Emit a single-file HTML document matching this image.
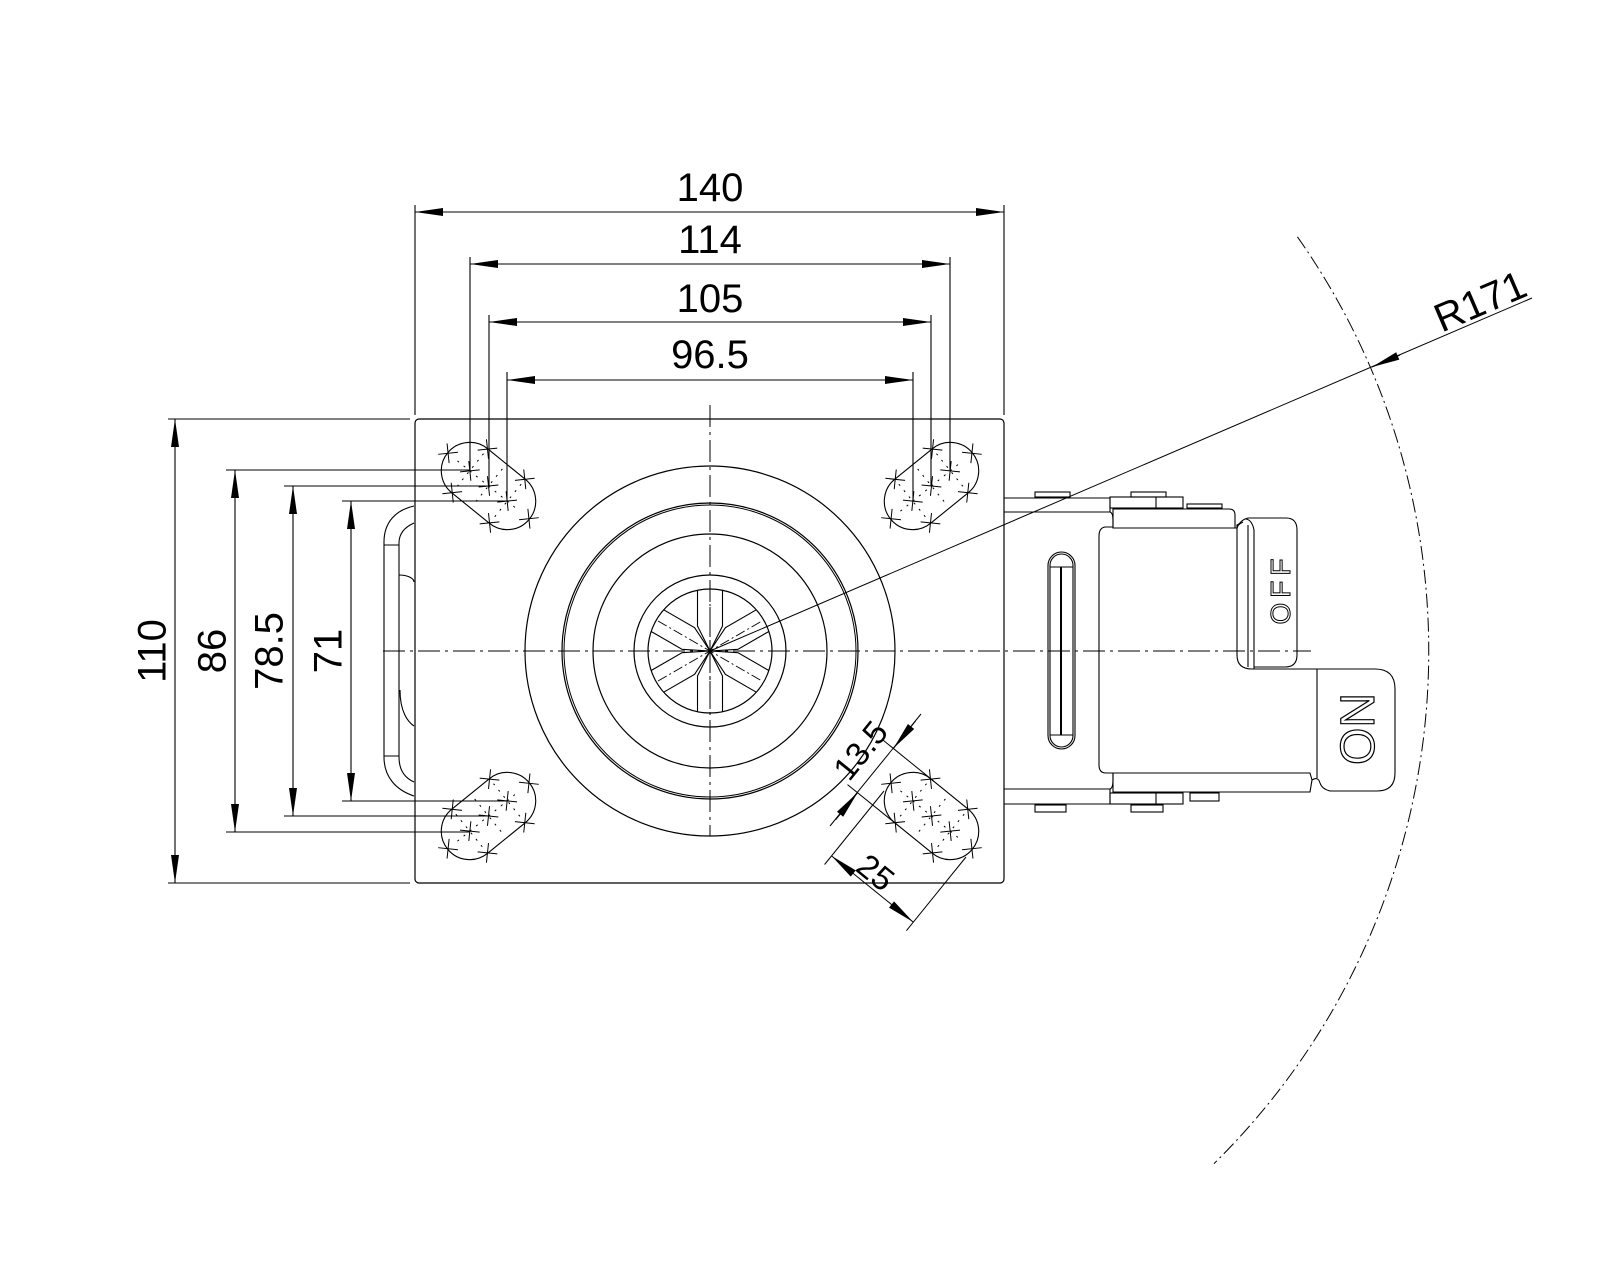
<!DOCTYPE html>
<html><head><meta charset="utf-8"><style>
html,body{margin:0;padding:0;background:#fff;}
svg{display:block;}
text{font-family:"Liberation Sans",Arial,sans-serif;}
</style></head><body>
<svg width="1600" height="1280" viewBox="0 0 1600 1280" xmlns="http://www.w3.org/2000/svg">
<defs>
<marker id="ar" markerUnits="userSpaceOnUse" markerWidth="30" markerHeight="10" viewBox="-29 -5 30 10" refX="0" refY="0" orient="auto-start-reverse">
<path d="M0,0 L-28,-4 L-28,4 Z" fill="#000"/>
</marker>
<g id="slot">
<rect x="-52.6" y="-28.4" width="105.2" height="56.8" rx="28.4" fill="none" stroke="#000" stroke-width="1.1"/>
<line x1="-40" y1="0" x2="40" y2="0" stroke="#000" stroke-width="1" stroke-dasharray="2 6"/>
<g stroke="#000" stroke-width="1">
<path d="M-31,-7 L-17,7 M-31,7 L-17,-7"/>
<path d="M-7,-7 L7,7 M-7,7 L7,-7"/>
<path d="M17,-7 L31,7 M17,7 L31,-7"/>
<path d="M-31,-35 L-17,-21 M-31,-21 L-17,-35"/>
<path d="M17,-35 L31,-21 M17,-21 L31,-35"/>
<path d="M-31,35 L-17,21 M-31,21 L-17,35"/>
<path d="M17,35 L31,21 M17,21 L31,35"/>
<path d="M-59,-7 L-45,7 M-59,7 L-45,-7"/>
<path d="M45,-7 L59,7 M45,7 L59,-7"/>
</g>
<g stroke="#000" stroke-width="1" stroke-dasharray="2 6">
<line x1="-24.2" y1="-22" x2="-24.2" y2="22"/>
<line x1="0" y1="-22" x2="0" y2="22"/>
<line x1="24.2" y1="-22" x2="24.2" y2="22"/>
</g>
</g>
<g id="band">
<path d="M60.7,-12.5 L25,-12.5 L0,0 L25,12.5 L60.7,12.5 M-60.7,-12.5 L-25,-12.5 L0,0 L-25,12.5 L-60.7,12.5" fill="none" stroke="#000" stroke-width="1.1"/>
<line x1="-60" y1="0" x2="60" y2="0" stroke="#000" stroke-width="1" stroke-dasharray="10 3 2 3"/>
</g>
</defs>

<g fill="none" stroke="#000" stroke-width="1.2">
<rect x="415" y="419" width="589" height="464" rx="4"/>
<circle cx="710" cy="651" r="185"/>
<circle cx="710" cy="651" r="148"/>
<circle cx="710" cy="651" r="146" stroke-width="1"/>
<circle cx="710" cy="651" r="117"/>
<circle cx="710" cy="651" r="76"/>
<circle cx="710" cy="651" r="62"/>
</g>
<g transform="translate(710,651)">
<use href="#band" transform="rotate(90)"/>
<use href="#band" transform="rotate(30)"/>
<use href="#band" transform="rotate(-30)"/>
</g>

<use href="#slot" transform="translate(488.5,486) rotate(39)"/>
<use href="#slot" transform="translate(931.5,486) rotate(-39)"/>
<use href="#slot" transform="translate(488.5,816) rotate(-39)"/>
<use href="#slot" transform="translate(931.5,816) rotate(39)"/>

<g fill="none" stroke="#000" stroke-width="1.1">
<path d="M414,506 C396,510 384,522 384,542 L384,757 C384,777 396,790 414,796"/>
<path d="M414,523 C405,527 399,533 399,543 L399,757 C399,770 405,778 414,782"/>
<path d="M384,545 L399,545 M384,756 L399,756"/>
<path d="M399,575 C407,575 414,578 414,582"/>
<path d="M400,690 C400,712 408,722 414,726"/>
</g>

<g stroke="#000" stroke-width="1" stroke-dasharray="22 5 3 5">
<line x1="383" y1="651" x2="1311" y2="651"/>
<line x1="710" y1="405" x2="710" y2="836"/>
</g>

<g fill="none" stroke="#000" stroke-width="1.1">
<path d="M1004,498 L1110,498 L1110,512 L1004,512"/>
<rect x="1110" y="497" width="73" height="11"/>
<line x1="1156" y1="497" x2="1156" y2="508"/>
<rect x="1035" y="492" width="35" height="5"/>
<rect x="1131" y="492" width="35" height="5"/>
<rect x="1187" y="504" width="35" height="4"/>
<path d="M1113,509 L1229,509 Q1235,509 1235,515 L1235,528 L1113,528 Z"/>
<path d="M1110,512 Q1113,513 1113,520 L1113,528"/>
<path d="M1113,527 L1105,527 Q1099,528 1099,536 L1099,765 Q1099,773 1106,773 L1113,773"/>
<path d="M1235,528 L1237,528 Q1237,525 1243,522 L1237,525 L1237,655 Q1237,669 1252,669 L1317,669"/>
<path d="M1248,518 L1286,518 Q1297,518 1297,530 L1297,655 Q1297,667 1285,667 L1254,667"/>
<path d="M1248,518 Q1240,520 1237,528"/>
<line x1="1248" y1="525" x2="1248" y2="667"/>
<line x1="1254" y1="530" x2="1254" y2="669"/>
<path d="M1254,530 Q1252,520 1246,519"/>
<path d="M1317,669 L1375,669 Q1395,669 1395,689 L1395,773 Q1395,791 1377,791 L1330,791 Q1322,789 1320,783 Q1318,776 1312,780 L1310,792 L1113,792 L1113,773 L1310,773 L1312,780"/>
<line x1="1317" y1="669" x2="1317" y2="778"/>
<path d="M1004,789 L1110,789 L1110,804 L1004,804"/>
<path d="M1110,789 Q1113,788 1113,780 L1113,773"/>
<rect x="1110" y="793" width="73" height="11"/>
<line x1="1156" y1="793" x2="1156" y2="804"/>
<rect x="1190" y="793" width="29" height="8"/>
<rect x="1035" y="805" width="31" height="7"/>
<rect x="1131" y="805" width="32" height="7"/>
<rect x="1048" y="552" width="27" height="197" rx="13.5"/>
<rect x="1050" y="554" width="23" height="193" rx="11.5"/>
<line x1="1050" y1="567" x2="1073" y2="567"/>
<line x1="1050" y1="735" x2="1073" y2="735"/>
<line x1="1061" y1="567" x2="1061" y2="735" stroke-width="2"/>
</g>
<text transform="translate(1280,592) rotate(-90)" x="3" y="10" text-anchor="middle" font-size="28" letter-spacing="5" fill="none" stroke="#000" stroke-width="1">OFF</text>
<text transform="translate(1357,729) rotate(-90)" x="0" y="17" text-anchor="middle" font-size="48" fill="none" stroke="#000" stroke-width="1.2">ON</text>

<path d="M1297.4,236.8 A719,719 0 0 1 1214,1163.6" fill="none" stroke="#000" stroke-width="1" stroke-dasharray="14 4 2 4"/>
<line x1="710" y1="651" x2="1532" y2="298" stroke="#000" stroke-width="1"/>
<line x1="1400" y1="355" x2="1372" y2="367" stroke="#000" stroke-width="1" marker-end="url(#ar)"/>
<text transform="translate(1480,301) rotate(-23.2)" x="0" y="14" text-anchor="middle" font-size="40">R171</text>

<g stroke="#000" stroke-width="1.1">
<line x1="415" y1="205" x2="415" y2="415"/>
<line x1="1004" y1="205" x2="1004" y2="415"/>
<line x1="470" y1="257" x2="470" y2="471"/>
<line x1="950" y1="257" x2="950" y2="471"/>
<line x1="489" y1="315" x2="489" y2="486"/>
<line x1="931" y1="315" x2="931" y2="486"/>
<line x1="507" y1="372" x2="507" y2="501"/>
<line x1="913" y1="372" x2="913" y2="501"/>
<line x1="415" y1="212" x2="1004" y2="212" marker-start="url(#ar)" marker-end="url(#ar)"/>
<line x1="470" y1="264" x2="950" y2="264" marker-start="url(#ar)" marker-end="url(#ar)"/>
<line x1="489" y1="322" x2="931" y2="322" marker-start="url(#ar)" marker-end="url(#ar)"/>
<line x1="507" y1="380" x2="913" y2="380" marker-start="url(#ar)" marker-end="url(#ar)"/>
</g>
<g font-size="40" text-anchor="middle">
<text x="710" y="201">140</text>
<text x="710" y="253">114</text>
<text x="710" y="312">105</text>
<text x="710" y="368">96.5</text>
</g>

<g stroke="#000" stroke-width="1.1">
<line x1="168" y1="419" x2="410" y2="419"/>
<line x1="168" y1="883" x2="410" y2="883"/>
<line x1="226" y1="470" x2="470" y2="470"/>
<line x1="226" y1="832" x2="470" y2="832"/>
<line x1="284" y1="486" x2="488" y2="486"/>
<line x1="284" y1="816" x2="488" y2="816"/>
<line x1="342" y1="501" x2="507" y2="501"/>
<line x1="342" y1="801" x2="507" y2="801"/>
<line x1="175" y1="419" x2="175" y2="883" marker-start="url(#ar)" marker-end="url(#ar)"/>
<line x1="235" y1="470" x2="235" y2="832" marker-start="url(#ar)" marker-end="url(#ar)"/>
<line x1="293" y1="486" x2="293" y2="816" marker-start="url(#ar)" marker-end="url(#ar)"/>
<line x1="351" y1="501" x2="351" y2="801" marker-start="url(#ar)" marker-end="url(#ar)"/>
</g>
<g font-size="40" text-anchor="middle">
<text transform="translate(151,651) rotate(-90)" x="0" y="14.5">110</text>
<text transform="translate(211,651) rotate(-90)" x="0" y="14.5">86</text>
<text transform="translate(268,651) rotate(-90)" x="0" y="14.5">78.5</text>
<text transform="translate(327,651) rotate(-90)" x="0" y="14.5">71</text>
</g>

<g stroke="#000" stroke-width="1">
<line x1="933.9" y1="781.3" x2="883.4" y2="740.4"/>
<line x1="898.1" y1="825.5" x2="847.5" y2="784.6"/>
<line x1="921" y1="714" x2="830" y2="826"/>
<line x1="915.5" y1="721" x2="893.5" y2="748.3" marker-end="url(#ar)"/>
<line x1="835.7" y1="819.7" x2="857.7" y2="792.5" marker-end="url(#ar)"/>
<line x1="966" y1="857" x2="906.4" y2="930.7"/>
<line x1="884" y1="791" x2="824.6" y2="864.5"/>
<line x1="831.5" y1="855.9" x2="913.3" y2="922.1" marker-start="url(#ar)" marker-end="url(#ar)"/>
</g>
<text transform="translate(860,750) rotate(-51)" x="0" y="12" text-anchor="middle" font-size="33">13.5</text>
<text transform="translate(876,872) rotate(39)" x="0" y="12" text-anchor="middle" font-size="33">25</text>
</svg>
</body></html>
